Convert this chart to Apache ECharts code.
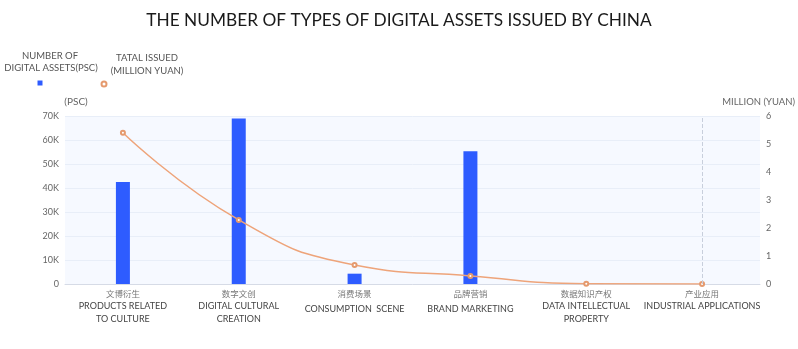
<!DOCTYPE html>
<html>
<head>
<meta charset="utf-8">
<script src="https://cdn.jsdelivr.net/npm/echarts@6/dist/echarts.min.js"></script>
<style>
html,body{margin:0;padding:0;background:#fff;}
#chart{width:798px;height:349px;}
</style>
</head>
<body>
<div id="chart"></div>
<script>
var categories = ['文博衍生', '数字文创', '消费场景', '品牌营销', '数据知识产权', '产业应用'];
var englishLabels = ['PRODUCTS RELATED\nTO CULTURE', 'DIGITAL CULTURAL\nCREATION', 'CONSUMPTION  SCENE', 'BRAND MARKETING', 'DATA INTELLECTUAL\nPROPERTY', 'INDUSTRIAL APPLICATIONS'];
var assetsPsc = [42500, 69000, 4300, 55300, 0, 0];
var issuedMillionYuan = [5.4, 2.29, 0.68, 0.29, 0.01, 0];
var leftTicks = [0, 10000, 20000, 30000, 40000, 50000, 60000, 70000];
var rightTicks = [0, 1, 2, 3, 4, 5, 6];
var seriesNames = ['NUMBER OF\nDIGITAL ASSETS(PSC)', 'TATAL ISSUED\n(MILLION YUAN)'];

var FONT = 'Lato, "Noto Sans", sans-serif';
var chart = echarts.init(document.getElementById('chart'), null, {renderer: 'canvas'});
var option = {
  animation: false,
  textStyle: {fontFamily: FONT},
  title: {
    text: 'THE NUMBER OF TYPES OF DIGITAL ASSETS ISSUED BY CHINA',
    left: 'center', top: 7,
    textStyle: {fontFamily: FONT, fontSize: 17.3, fontWeight: 'normal', color: '#1a1a1a'}
  },
  legend: [
    {data: [seriesNames[0]], left: 37.5, top: 80.5, padding: 0, icon: 'rect', itemWidth: 5, itemHeight: 5, formatter: function(){return '';}, selectedMode: false},
    {data: [seriesNames[1]], left: 100.5, top: 80.5, padding: 0, icon: 'emptyCircle', itemWidth: 5, itemHeight: 5, formatter: function(){return '';}, selectedMode: false}
  ],
  graphic: [
    {type: 'text', x: 50, y: 51, style: {text: 'NUMBER OF', fill: '#555', font: '9.5px ' + FONT, textAlign: 'center'}},
    {type: 'text', x: 51, y: 63, style: {text: 'DIGITAL ASSETS(PSC)', fill: '#555', font: '9.5px ' + FONT, textAlign: 'center'}},
    {type: 'text', x: 147, y: 53, style: {text: 'TATAL ISSUED', fill: '#555', font: '9.5px ' + FONT, textAlign: 'center'}},
    {type: 'text', x: 147, y: 66, style: {text: '(MILLION YUAN)', fill: '#555', font: '9.5px ' + FONT, textAlign: 'center'}}
  ],
  grid: {left: 65, right: 36, top: 116, bottom: 65, show: true, backgroundColor: '#f6f9ff', borderWidth: 0},
  xAxis: {
    type: 'category', data: categories,
    axisLine: {lineStyle: {color: '#d6dbe6'}},
    axisTick: {show: false},
    axisLabel: {
      interval: 0, margin: 3,
      formatter: function (v, i) {
        var en = englishLabels[i];
        var single = en.indexOf('\n') < 0;
        var style = single ? (i === 5 ? 'en' : 'enMid') : 'en';
        return '{cn|' + v + '}\n' + en.split('\n').map(function (l) { return '{' + style + '|' + l + '}'; }).join('\n');
      },
      rich: {
        cn: {fontSize: 8.5, color: '#777', lineHeight: 13, fontFamily: '"Noto Sans CJK SC", sans-serif'},
        en: {fontSize: 9, color: '#444', lineHeight: 13, fontFamily: FONT},
        enMid: {fontSize: 9, color: '#444', lineHeight: 16, padding: [3, 0, 0, 0], fontFamily: FONT}
      }
    }
  },
  yAxis: [
    {
      type: 'value', min: 0, max: 70000, interval: 10000,
      name: '(PSC)', nameGap: 9, nameTextStyle: {color: '#666', fontSize: 10, align: 'center', padding: [0, 0, 0, 22]},
      axisLine: {show: false}, axisTick: {show: false},
      axisLabel: {color: '#666', fontSize: 9, margin: 6, formatter: function (v) { return leftTicks.indexOf(v) >= 0 ? (v === 0 ? '0' : (v / 1000) + 'K') : ''; }},
      splitLine: {lineStyle: {color: '#e8eef8'}}
    },
    {
      type: 'value', min: 0, max: 6, interval: 1, position: 'right',
      name: 'MILLION (YUAN)', nameGap: 9, nameTextStyle: {color: '#666', fontSize: 9.5, align: 'right', padding: [0, -35, 0, 0]},
      axisLine: {show: false}, axisTick: {show: false},
      axisLabel: {color: '#666', fontSize: 9, margin: 6, formatter: function (v) { return rightTicks.indexOf(v) >= 0 ? String(v) : ''; }},
      splitLine: {show: false}
    }
  ],
  series: [
    {
      name: seriesNames[0], type: 'bar', data: assetsPsc, barWidth: 14,
      itemStyle: {color: '#2e5cff'}
    },
    {
      name: seriesNames[1], type: 'line', yAxisIndex: 1, data: issuedMillionYuan, smooth: true,
      symbol: 'emptyCircle', symbolSize: 4, showAllSymbol: true,
      lineStyle: {color: '#eea47a', width: 1.5},
      itemStyle: {color: '#e59a6e', borderWidth: 1},
      markLine: {
        silent: true, symbol: 'none', label: {show: false},
        lineStyle: {color: '#c8cfdc', type: 'dashed', width: 1},
        data: [{xAxis: categories[5]}]
      }
    }
  ]
};
chart.setOption(option);
</script>
</body>
</html>
